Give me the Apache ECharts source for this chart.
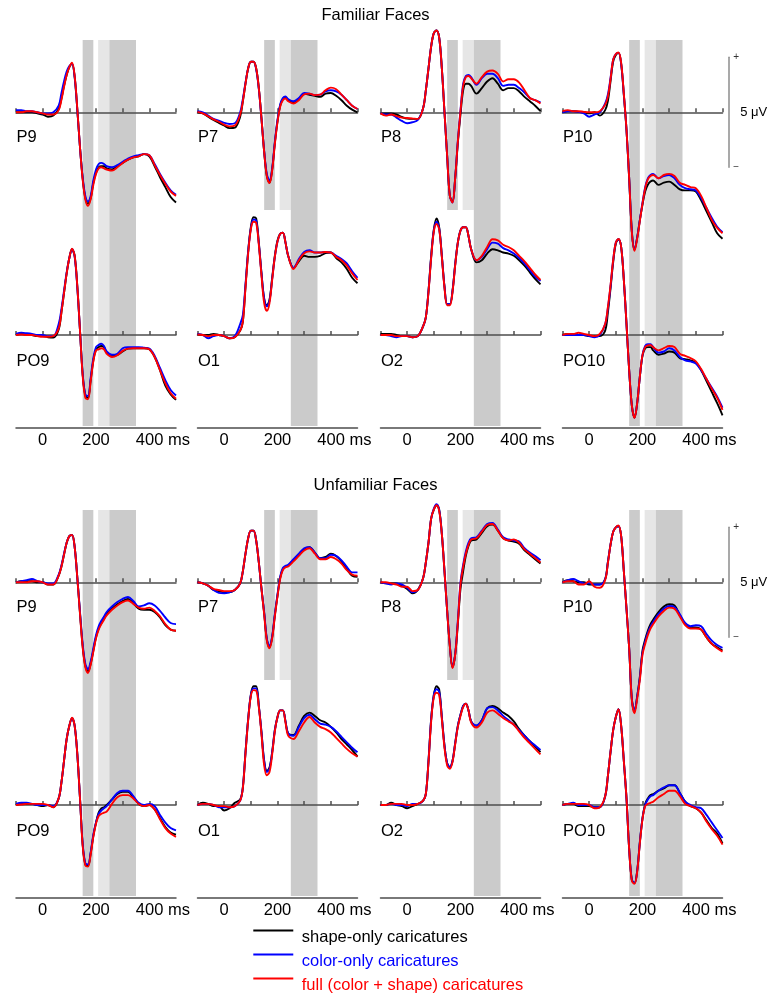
<!DOCTYPE html>
<html><head><meta charset="utf-8">
<script src="https://cdn.jsdelivr.net/npm/echarts@6/dist/echarts.min.js"></script>
<style>html,body{margin:0;padding:0;background:#fff}#c{width:768px;height:995px}</style>
</head><body><div id="c"></div>
<script>
// ---------------- DATA ----------------
const times = [-100,-80,-60,-40,-20,0,20,40,60,70, 80,90,100,110,120,130,140,150,160,170, 180,190,200,210,220,230,240,260,280,300, 320,340,360,380,400,420,440,460,480,500];
const seriesNames = ['shape-only caricatures','color-only caricatures','full (color + shape) caricatures'];
const sectionTitles = ['Familiar Faces','Unfamiliar Faces'];
const channelRows = [['P9','P7','P8','P10'],['PO9','O1','O2','PO10']];
const windowsMs = [[150,190,'dark'],[208,250,'light'],[250,350,'dark']];
const tickLabels = {0:'0',200:'200',400:'400'};
const tickUnit = 'ms';
const scaleBarLabel = '5 μV';

// Familiar faces (μV)
const fam_P9_shape = [0,0,0,0,-0.05,-0.1,-0.2,-0.15,0.15,0.6, 1.2,1.7,2.05,2.2,1.6,0.1,-1.6,-3.0,-3.9,-4.15, -3.9,-3.2,-2.75,-2.5,-2.45,-2.45,-2.55,-2.6,-2.45,-2.3, -2.15,-2.05,-2.0,-1.9,-2.0,-2.45,-2.95,-3.4,-3.85,-4.1];
const fam_P9_color = [0.1,0.1,0.05,0.05,0,-0.05,-0.05,0,0.3,0.85, 1.4,1.85,2.1,2.2,1.6,0.1,-1.6,-2.95,-3.8,-4.05, -3.8,-3.1,-2.6,-2.35,-2.3,-2.35,-2.45,-2.5,-2.4,-2.25, -2.1,-2.0,-1.95,-1.9,-1.95,-2.35,-2.8,-3.2,-3.55,-3.75];
const fam_P9_full  = [0,0,0.05,0.05,0,-0.05,-0.1,-0.1,0.1,0.55, 1.15,1.7,2.05,2.25,1.65,0.15,-1.6,-3.05,-3.95,-4.25, -3.95,-3.3,-2.8,-2.55,-2.5,-2.55,-2.6,-2.65,-2.5,-2.3, -2.15,-2.05,-2.0,-1.9,-1.95,-2.4,-2.85,-3.25,-3.6,-3.8];

const fam_P7_shape = [0,-0.05,-0.2,-0.35,-0.48,-0.6,-0.72,-0.7,-0.2,0.5, 1.3,2.0,2.3,2.3,2.0,1.1,-0.3,-1.8,-2.9,-3.2, -2.6,-1.4,-0.4,0.3,0.6,0.68,0.55,0.45,0.6,0.85, 0.8,0.75,0.7,0.85,0.88,0.75,0.55,0.3,0.12,0.0];
const fam_P7_color = [0.05,0,-0.15,-0.3,-0.38,-0.48,-0.53,-0.5,0,0.6, 1.35,2.0,2.3,2.3,1.95,1.05,-0.3,-1.75,-2.8,-3.1, -2.55,-1.35,-0.35,0.35,0.65,0.72,0.6,0.5,0.65,0.88, 0.85,0.78,0.8,0.95,1.0,0.95,0.8,0.55,0.3,0.15];
const fam_P7_full  = [0.02,-0.05,-0.18,-0.32,-0.43,-0.56,-0.64,-0.6,-0.1,0.5, 1.3,2.0,2.3,2.3,2.0,1.1,-0.3,-1.8,-2.9,-3.22, -2.65,-1.45,-0.45,0.25,0.55,0.63,0.5,0.4,0.55,0.82, 0.85,0.78,0.8,1.0,1.12,1.05,0.8,0.55,0.3,0.15];

const fam_P8_shape = [-0.05,-0.05,-0.05,-0.1,-0.21,-0.29,-0.3,-0.3,0.2,1.0, 2.0,3.0,3.6,3.72,3.4,2.0,0,-2.0,-3.8,-4.05, -3.0,-1.4,-0.1,1.0,1.3,1.3,1.2,0.85,1.1,1.4, 1.55,1.3,1.0,1.1,1.1,0.95,0.7,0.5,0.3,0.05];
const fam_P8_color = [-0.05,-0.1,-0.1,-0.24,-0.39,-0.5,-0.45,-0.35,0.2,1.0, 2.0,3.0,3.6,3.72,3.4,2.0,0,-2.0,-3.8,-4.1, -3.0,-1.3,0.1,1.3,1.65,1.7,1.6,1.25,1.55,1.75, 1.75,1.55,1.2,1.25,1.25,1.1,0.9,0.65,0.55,0.45];
const fam_P8_full  = [-0.05,-0.15,-0.1,-0.17,-0.24,-0.26,-0.28,-0.3,0.2,1.0, 2.0,3.0,3.6,3.72,3.4,2.0,0,-2.0,-3.8,-4.1, -3.0,-1.35,0.05,1.2,1.6,1.65,1.55,1.3,1.6,1.85, 1.9,1.75,1.4,1.5,1.5,1.35,1.0,0.65,0.55,0.4];

const fam_P10_shape = [0,0.05,0.05,0.02,0,-0.05,0,-0.15,0.1,0.5, 1.4,2.3,2.6,2.7,2.2,0.8,-0.8,-3.0,-5.4,-6.25, -5.7,-4.9,-4.2,-3.6,-3.3,-3.15,-3.1,-3.3,-3.2,-3.15, -3.3,-3.5,-3.55,-3.55,-3.6,-4.0,-4.5,-5.0,-5.5,-5.75];
const fam_P10_color = [0,0.05,0.05,0.02,-0.05,-0.2,-0.1,0,0.4,0.8, 1.55,2.4,2.65,2.7,2.2,0.8,-0.8,-3.0,-5.4,-6.25, -5.7,-4.9,-4.1,-3.4,-3.0,-2.85,-2.8,-3.0,-2.9,-2.85, -3.0,-3.3,-3.45,-3.5,-3.55,-3.9,-4.35,-4.8,-5.2,-5.45];
const fam_P10_full  = [0.05,0.1,0.05,0.05,0.02,0,0,0.05,0.35,0.7, 1.5,2.4,2.65,2.72,2.25,0.85,-0.8,-3.0,-5.45,-6.3, -5.75,-4.95,-4.15,-3.45,-3.05,-2.9,-2.85,-3.0,-2.85,-2.8, -2.9,-3.2,-3.3,-3.4,-3.45,-3.8,-4.35,-4.9,-5.25,-5.5];

const fam_PO9_shape = [0,0.05,0.02,0,-0.05,-0.05,-0.1,-0.12,0.25,1.0, 1.9,2.8,3.5,3.9,3.6,2.2,0.2,-1.8,-2.75,-2.85, -2.05,-1.15,-0.65,-0.55,-0.5,-0.55,-0.8,-0.95,-0.9,-0.75, -0.62,-0.6,-0.6,-0.6,-0.65,-1.0,-1.6,-2.3,-2.7,-2.95];
const fam_PO9_color = [0.05,0.1,0.08,0.05,0,0,-0.05,-0.05,0.5,1.15, 2.0,2.85,3.5,3.9,3.55,2.15,0.2,-1.75,-2.7,-2.77, -1.95,-1.05,-0.55,-0.45,-0.4,-0.5,-0.75,-0.9,-0.85,-0.6, -0.55,-0.55,-0.55,-0.58,-0.62,-0.95,-1.5,-2.05,-2.5,-2.75];
const fam_PO9_full  = [0,0.02,0,0,-0.05,-0.08,-0.08,-0.05,0.3,1.0, 1.9,2.8,3.5,3.92,3.6,2.2,0.2,-1.85,-2.85,-2.92, -2.1,-1.2,-0.7,-0.65,-0.6,-0.65,-0.85,-1.0,-0.92,-0.72, -0.62,-0.6,-0.6,-0.6,-0.65,-1.0,-1.6,-2.2,-2.65,-2.9];

const fam_O1_shape = [0.02,0,0,0.05,0,-0.05,-0.15,-0.1,0.2,0.6, 2.2,3.8,4.9,5.35,5.3,4.2,2.8,1.65,1.35,1.6, 2.6,3.6,4.3,4.6,4.65,4.2,3.6,3.05,3.35,3.6, 3.55,3.55,3.6,3.72,3.75,3.5,3.3,3.0,2.6,2.35];
const fam_O1_color = [0.05,0,-0.15,-0.05,0,-0.05,-0.15,-0.05,0.5,0.9, 2.3,3.8,4.85,5.25,5.2,4.15,2.8,1.65,1.3,1.55, 2.55,3.55,4.25,4.6,4.65,4.2,3.6,3.05,3.45,3.77, 3.85,3.75,3.75,3.77,3.75,3.6,3.45,3.25,2.9,2.6];
const fam_O1_full  = [0.02,0,-0.05,0,0,-0.05,-0.15,-0.1,0.2,0.6, 2.15,3.7,4.8,5.15,5.1,4.1,2.7,1.45,1.1,1.45, 2.5,3.55,4.25,4.6,4.65,4.2,3.6,3.0,3.4,3.72, 3.8,3.75,3.75,3.77,3.75,3.55,3.4,3.15,2.8,2.5];

const fam_O2_shape = [0.05,0.05,0.05,0,-0.05,-0.05,-0.1,-0.05,0.4,0.8, 2.0,3.6,4.8,5.3,4.9,3.6,2.2,1.4,1.4,2.0, 3.2,4.2,4.75,4.9,4.9,4.5,3.9,3.3,3.4,3.7, 3.9,3.85,3.75,3.7,3.6,3.4,3.15,2.85,2.55,2.3];
const fam_O2_color = [0,0,-0.05,-0.1,-0.05,-0.05,-0.1,-0.05,0.4,0.8, 2.0,3.55,4.75,5.15,4.85,3.6,2.2,1.4,1.4,2.0, 3.2,4.2,4.75,4.9,4.9,4.5,3.9,3.4,3.55,3.9, 4.2,4.15,3.95,3.85,3.7,3.5,3.25,2.95,2.65,2.45];
const fam_O2_full  = [0,0,0,-0.05,-0.05,-0.05,-0.1,-0.05,0.4,0.8, 1.95,3.5,4.7,5.05,4.8,3.55,2.15,1.35,1.35,1.95, 3.15,4.2,4.75,4.9,4.9,4.5,3.9,3.4,3.6,4.0, 4.35,4.3,4.1,4.0,3.85,3.6,3.35,3.05,2.75,2.5];

const fam_PO10_shape = [0,0.05,0.05,0,0,-0.05,-0.05,-0.05,0.2,1.0, 2.1,3.3,4.15,4.35,4.0,2.5,0.5,-1.6,-3.2,-3.75, -3.1,-1.9,-0.95,-0.6,-0.55,-0.55,-0.7,-0.9,-0.85,-0.75, -0.8,-1.05,-1.1,-1.15,-1.25,-1.6,-2.1,-2.6,-3.1,-3.65];
const fam_PO10_color = [0,0,0,0,0,-0.05,-0.1,0,0.5,1.2, 2.2,3.4,4.2,4.35,4.0,2.5,0.5,-1.6,-3.2,-3.75, -3.1,-1.9,-0.9,-0.5,-0.42,-0.42,-0.55,-0.8,-0.75,-0.6, -0.7,-1.0,-1.15,-1.2,-1.3,-1.6,-2.0,-2.4,-2.8,-3.3];
const fam_PO10_full  = [0,0.05,0.05,0.1,0.05,0,-0.05,0.05,0.5,1.25, 2.25,3.4,4.2,4.37,4.0,2.5,0.5,-1.6,-3.2,-3.78, -3.1,-1.9,-0.9,-0.55,-0.47,-0.45,-0.55,-0.7,-0.6,-0.5, -0.55,-0.85,-0.95,-1.05,-1.2,-1.55,-2.0,-2.45,-2.85,-3.4];

// Unfamiliar faces (μV)
const unf_P9_shape = [0,0.05,0.05,0.05,0,0,-0.1,-0.1,0.3,0.7, 1.25,1.8,2.1,2.15,1.6,0.2,-1.4,-2.9,-3.8,-4.05, -3.7,-3.1,-2.5,-2.1,-1.85,-1.65,-1.45,-1.2,-1.0,-0.85, -0.76,-0.95,-1.2,-1.25,-1.25,-1.35,-1.6,-1.95,-2.15,-2.2];
const unf_P9_color = [0,0.05,0.1,0.15,0.05,0,-0.05,-0.05,0.35,0.75, 1.3,1.8,2.1,2.15,1.6,0.2,-1.35,-2.8,-3.7,-3.95, -3.6,-3.0,-2.4,-2.0,-1.75,-1.55,-1.35,-1.1,-0.9,-0.75, -0.67,-0.85,-1.1,-1.05,-0.95,-1.05,-1.3,-1.6,-1.85,-1.9];
const unf_P9_full  = [0,0,0,0.05,0.05,0,-0.1,-0.1,0.3,0.7, 1.25,1.8,2.1,2.15,1.6,0.2,-1.45,-2.95,-3.85,-4.12, -3.75,-3.15,-2.55,-2.15,-1.9,-1.7,-1.5,-1.25,-1.05,-0.9, -0.83,-0.98,-1.15,-1.2,-1.15,-1.3,-1.55,-1.9,-2.15,-2.2];

const unf_P7_shape = [0,-0.05,-0.15,-0.35,-0.4,-0.45,-0.45,-0.35,-0.05,0.5, 1.3,2.0,2.35,2.35,1.9,0.9,-0.3,-1.4,-2.6,-2.95, -2.5,-1.5,-0.6,0.2,0.6,0.7,0.75,1.0,1.25,1.5, 1.6,1.35,1.1,1.15,1.3,1.2,0.95,0.6,0.3,0.25];
const unf_P7_color = [0,-0.05,-0.15,-0.35,-0.48,-0.5,-0.45,-0.35,-0.05,0.5, 1.3,2.0,2.35,2.35,1.9,0.9,-0.3,-1.35,-2.55,-2.9, -2.45,-1.45,-0.55,0.25,0.65,0.75,0.8,1.05,1.3,1.55, 1.6,1.35,1.1,1.1,1.25,1.2,1.0,0.7,0.45,0.45];
const unf_P7_full  = [0,-0.05,-0.15,-0.3,-0.35,-0.4,-0.4,-0.35,-0.05,0.5, 1.3,2.0,2.35,2.35,1.9,0.9,-0.3,-1.45,-2.65,-3.0, -2.55,-1.55,-0.65,0.15,0.55,0.68,0.72,0.95,1.2,1.45, 1.55,1.3,1.05,1.05,1.15,1.05,0.85,0.55,0.35,0.3];

const unf_P8_shape = [0,-0.05,-0.05,-0.05,-0.15,-0.3,-0.5,-0.35,0.2,0.9, 1.8,2.9,3.3,3.5,3.3,2.2,0.5,-1.3,-2.9,-3.85, -3.3,-1.9,-0.3,0.5,1.2,1.65,1.9,1.95,2.25,2.55, 2.62,2.35,2.0,1.9,1.85,1.75,1.45,1.25,1.05,0.85];
const unf_P8_color = [0,-0.05,-0.1,-0.05,-0.1,-0.25,-0.45,-0.35,0.2,0.9, 1.8,2.9,3.35,3.55,3.3,2.2,0.5,-1.3,-2.85,-3.85, -3.25,-1.75,0,0.8,1.4,1.8,2.0,2.05,2.35,2.65, 2.7,2.4,2.05,1.95,1.9,1.85,1.55,1.35,1.2,1.0];
const unf_P8_full  = [0,0,-0.05,-0.1,-0.2,-0.2,-0.4,-0.35,0.2,0.9, 1.8,2.9,3.3,3.5,3.25,2.2,0.5,-1.3,-2.9,-3.9, -3.3,-1.85,-0.1,0.7,1.3,1.7,1.95,2.0,2.3,2.6, 2.65,2.35,2.0,1.9,1.95,1.8,1.5,1.3,1.1,0.9];

const unf_P10_shape = [0,0.1,0.05,0,0,-0.1,-0.1,-0.1,0.15,0.9, 1.7,2.3,2.5,2.55,2.1,0.5,-1.2,-3.0,-5.3,-5.85, -5.2,-4.3,-3.1,-2.6,-2.2,-1.9,-1.7,-1.35,-1.1,-1.0, -1.05,-1.5,-1.9,-2.05,-2.05,-2.15,-2.5,-2.8,-2.95,-3.1];
const unf_P10_color = [0,0.1,0.15,0.05,-0.05,-0.05,-0.1,-0.1,0.15,0.9, 1.7,2.3,2.5,2.55,2.1,0.5,-1.2,-3.0,-5.3,-5.85, -5.2,-4.35,-3.2,-2.7,-2.3,-2.0,-1.8,-1.45,-1.2,-1.08, -1.12,-1.45,-1.85,-2.0,-1.95,-2.0,-2.35,-2.65,-2.85,-2.98];
const unf_P10_full  = [0,0.05,0.05,-0.1,-0.1,0.05,-0.2,-0.25,0.1,0.85, 1.7,2.3,2.5,2.58,2.1,0.5,-1.2,-3.0,-5.35,-5.95, -5.3,-4.45,-3.3,-2.8,-2.4,-2.1,-1.9,-1.55,-1.3,-1.15, -1.2,-1.55,-1.95,-2.1,-2.1,-2.15,-2.5,-2.8,-3.0,-3.15];

const unf_PO9_shape = [0,0.05,0.05,0.05,0,-0.05,0,-0.1,0.3,1.0, 2.0,3.0,3.6,3.95,3.6,2.3,0.3,-1.8,-2.7,-2.75, -2.2,-1.4,-0.8,-0.35,-0.15,-0.1,0,0.25,0.5,0.6, 0.6,0.35,0.05,-0.05,0,-0.2,-0.6,-1.0,-1.25,-1.35];
const unf_PO9_color = [0.05,0.1,0.1,0.05,0,0,0,-0.05,0.3,1.0, 2.0,3.0,3.6,3.95,3.6,2.3,0.3,-1.75,-2.65,-2.7, -2.15,-1.35,-0.8,-0.4,-0.25,-0.15,-0.05,0.25,0.55,0.65, 0.65,0.4,0.1,0,0.05,-0.05,-0.45,-0.8,-1.05,-1.15];
const unf_PO9_full  = [0,0.02,0.05,0.05,0.05,0.05,0,-0.1,0.3,1.0, 2.0,3.0,3.6,3.97,3.6,2.3,0.3,-1.85,-2.75,-2.8, -2.25,-1.45,-0.85,-0.5,-0.4,-0.35,-0.3,0.05,0.35,0.45, 0.45,0.3,0.05,-0.05,0,-0.2,-0.65,-1.05,-1.3,-1.45];

const unf_O1_shape = [0,0.1,0.05,-0.05,-0.05,-0.25,-0.15,0.1,0.25,0.8, 2.4,3.9,5.0,5.4,5.4,4.5,3.3,2.0,1.55,1.7, 2.4,3.4,4.0,4.3,4.3,3.8,3.25,3.18,3.6,4.05, 4.2,4.05,3.85,3.75,3.55,3.3,3.0,2.75,2.5,2.2];
const unf_O1_color = [0,0.05,0.05,0,-0.1,-0.1,-0.1,-0.05,0.2,0.8, 2.4,3.9,5.0,5.3,5.3,4.5,3.3,2.0,1.5,1.65, 2.4,3.4,4.0,4.3,4.3,3.8,3.25,3.15,3.55,3.95, 4.1,3.9,3.7,3.65,3.55,3.35,3.1,2.85,2.6,2.4];
const unf_O1_full  = [0,0.05,0.05,0,-0.05,-0.05,-0.1,-0.05,0.2,0.75, 2.35,3.85,4.95,5.22,5.2,4.45,3.2,1.8,1.35,1.5, 2.3,3.35,4.0,4.3,4.3,3.75,3.15,3.0,3.35,3.75, 4.0,3.75,3.55,3.45,3.3,3.05,2.8,2.55,2.35,2.2];

const unf_O2_shape = [0,0,0.1,0,-0.05,-0.15,-0.05,0.05,0.2,0.5, 2.0,3.9,5.0,5.4,5.25,4.0,2.7,1.9,1.72,2.0, 2.8,3.6,4.1,4.5,4.6,4.3,3.8,3.6,3.85,4.4, 4.5,4.4,4.2,4.05,3.8,3.45,3.15,2.9,2.65,2.4];
const unf_O2_color = [0,0,0.05,0,0,-0.05,0.05,0.05,0.2,0.5, 2.0,3.9,5.0,5.26,5.15,4.0,2.7,1.9,1.72,2.0, 2.8,3.6,4.1,4.5,4.6,4.3,3.8,3.62,3.85,4.4, 4.45,4.3,4.05,3.85,3.65,3.4,3.15,2.9,2.7,2.5];
const unf_O2_full  = [0,0,0.05,0.05,0.05,0,0,0.05,0.2,0.5, 1.95,3.8,4.9,5.1,5.0,3.9,2.6,1.8,1.65,1.95, 2.75,3.55,4.05,4.45,4.6,4.3,3.75,3.52,3.75,4.2, 4.3,4.15,3.95,3.8,3.65,3.35,3.05,2.8,2.55,2.3];

const unf_PO10_shape = [0,0.05,0.05,-0.05,-0.05,-0.05,-0.1,-0.1,0.4,1.3, 2.4,3.4,4.0,4.35,3.6,2.0,0.3,-2.0,-3.4,-3.55, -3.0,-1.7,-0.6,0.05,0.3,0.45,0.5,0.65,0.75,0.9, 0.9,0.55,0.15,-0.05,-0.15,-0.35,-0.7,-1.05,-1.3,-1.75];
const unf_PO10_color = [0,0.05,0.1,0,0,0,-0.1,-0.1,0.4,1.3, 2.4,3.4,4.0,4.35,3.6,2.0,0.3,-2.0,-3.4,-3.55, -3.0,-1.7,-0.6,0,0.25,0.4,0.45,0.65,0.8,0.9, 0.9,0.55,0.15,0,-0.1,-0.15,-0.45,-0.8,-1.15,-1.5];
const unf_PO10_full  = [0,0.05,0.05,0.05,0.05,0,-0.15,-0.1,0.4,1.3, 2.4,3.4,4.0,4.35,3.6,2.0,0.3,-2.0,-3.45,-3.58, -3.05,-1.75,-0.65,-0.05,0.05,0.1,0.15,0.35,0.5,0.65, 0.65,0.4,0.05,-0.05,-0.15,-0.35,-0.75,-1.1,-1.4,-1.8];

const panelSeries = [
  { P9:[fam_P9_shape,fam_P9_color,fam_P9_full], P7:[fam_P7_shape,fam_P7_color,fam_P7_full],
    P8:[fam_P8_shape,fam_P8_color,fam_P8_full], P10:[fam_P10_shape,fam_P10_color,fam_P10_full],
    PO9:[fam_PO9_shape,fam_PO9_color,fam_PO9_full], O1:[fam_O1_shape,fam_O1_color,fam_O1_full],
    O2:[fam_O2_shape,fam_O2_color,fam_O2_full], PO10:[fam_PO10_shape,fam_PO10_color,fam_PO10_full] },
  { P9:[unf_P9_shape,unf_P9_color,unf_P9_full], P7:[unf_P7_shape,unf_P7_color,unf_P7_full],
    P8:[unf_P8_shape,unf_P8_color,unf_P8_full], P10:[unf_P10_shape,unf_P10_color,unf_P10_full],
    PO9:[unf_PO9_shape,unf_PO9_color,unf_PO9_full], O1:[unf_O1_shape,unf_O1_color,unf_O1_full],
    O2:[unf_O2_shape,unf_O2_color,unf_O2_full], PO10:[unf_PO10_shape,unf_PO10_color,unf_PO10_full] }
];

// ---------------- LAYOUT / STYLE ----------------
const FONT = '"Liberation Sans", Arial, Helvetica, sans-serif';
const lineColors = ['#000000','#0000ff','#ff0000'];
const shadeColors = {dark:'#cbcbcb', light:'#e6e6e6'};
const axisColor = '#4d4d4d';
const colLeft = [16, 197.5, 380.5, 562.5];
const PANEL_W = 160;
const secOff = [0, 470];
const rowTop = [40, 210], rowBottom = [210, 426], rowBase = [112.3, 335];
const PX_PER_UV = 22;
const LABEL_FS = 16.5;

const grids = [], xAxes = [], yAxes = [], series = [], titles = [];

sectionTitles.forEach((secTitle, s) => {
  const off = secOff[s];
  titles.push({text: secTitle, left: 375.5, textAlign: 'center', top: 7.3 + off, padding: 0,
    textStyle: {fontSize: 16.5, fontWeight: 'normal', color: '#000', fontFamily: FONT}});
  channelRows.forEach((row, r) => {
    row.forEach((ch, c) => {
      const gi = grids.length;
      const top = rowTop[r] + off, h = rowBottom[r] - rowTop[r];
      grids.push({left: colLeft[c], top: top, width: PANEL_W, height: h});
      const yMax = (rowBase[r] - rowTop[r]) / PX_PER_UV;
      const yMin = -(rowBottom[r] - rowBase[r]) / PX_PER_UV;
      yAxes.push({gridIndex: gi, type: 'value', min: yMin, max: yMax, show: false});
      const yi = yAxes.length - 1;
      xAxes.push({gridIndex: gi, type: 'value', min: -100, max: 500, interval: 100, position: 'bottom', z: 2,
        axisLine: {onZero: true, lineStyle: {color: axisColor, width: 1.5}},
        axisTick: {show: true, inside: true, length: 4, lineStyle: {color: axisColor, width: 1.5}},
        axisLabel: {show: false}, splitLine: {show: false}});
      const xi = xAxes.length - 1;
      if (r === 1) {
        xAxes.push({gridIndex: gi, type: 'value', min: -100, max: 500, interval: 100, position: 'bottom', offset: 2, z: 2,
          axisLine: {onZero: false, lineStyle: {color: axisColor, width: 1.5}},
          axisTick: {show: false}, splitLine: {show: false},
          axisLabel: {show: true, margin: 3.5, fontSize: LABEL_FS, color: '#000', fontFamily: FONT,
            formatter: v => {
              const t = tickLabels[v];
              if (t === undefined) return '';
              if (v === 400) return '{a|' + t + '}{b| ' + tickUnit + '}';
              return t;
            },
            rich: {a: {fontSize: LABEL_FS, fontFamily: FONT, color: '#000', padding: [0,0,0,27]},
                   b: {fontSize: LABEL_FS, fontFamily: FONT, color: '#000'}}}});
      }
      // channel label
      titles.push({text: ch, left: colLeft[c] + 0.5, top: rowBase[r] + off + (r === 0 ? 24.5 : 25.8) - LABEL_FS/2 + 0.5, padding: 0,
        textStyle: {fontSize: LABEL_FS, fontWeight: 'normal', color: '#000', fontFamily: FONT}});
      // shaded windows
      const wins = (r === 0 || c === 0 || c === 3) ? windowsMs : windowsMs.filter(w => w[0] === 250);
      series.push({type: 'line', data: [], xAxisIndex: xi, yAxisIndex: yi, silent: true, z: 1,
        markArea: {silent: true, data: wins.map(w => [{xAxis: w[0], itemStyle: {color: shadeColors[w[2]], opacity: 1}}, {xAxis: w[1]}])}});
      // waveforms
      panelSeries[s][ch].forEach((vals, k) => {
        series.push({type: 'line', name: seriesNames[k], xAxisIndex: xi, yAxisIndex: yi,
          data: times.map((t, i) => [t, vals[i]]),
          smooth: 0.35, symbol: 'none', showSymbol: false, clip: false, z: 3 + k,
          color: lineColors[k], itemStyle: {color: lineColors[k]},
          lineStyle: {color: lineColors[k], width: 1.9}});
      });
    });
  });
  // scale bar (5 μV) as a y axis
  const gi = grids.length;
  grids.push({left: 728.5, width: 1, top: rowBase[0] + off - 2.5 * PX_PER_UV, height: 5 * PX_PER_UV});
  xAxes.push({gridIndex: gi, type: 'value', show: false, min: 0, max: 1});
  yAxes.push({gridIndex: gi, type: 'value', position: 'right', min: -2.5, max: 2.5, interval: 2.5,
    axisLine: {show: true, onZero: false, lineStyle: {color: '#8c8c8c', width: 1.5}},
    axisTick: {show: false}, splitLine: {show: false},
    axisLabel: {show: true, margin: 4.5, formatter: v => v > 0 ? '{p|+}' : (v < 0 ? '{p|−}' : '{v|' + scaleBarLabel + '}'),
      rich: {p: {fontSize: 10, color: '#333', fontFamily: FONT}, v: {fontSize: 13, color: '#000', fontFamily: FONT, padding: [0,0,0,7]}}}});
});

const legendIcon = 'path://M0,0H40V2H0Z M43.4,16H43.5V16.01H43.4Z';
const legendTops = [929, 953, 977];
const legends = seriesNames.map((n, k) => ({
  orient: 'vertical', left: 253.3, top: legendTops[k], itemWidth: 43.5, itemHeight: 16,
  icon: legendIcon, selectedMode: false, padding: 0,
  textStyle: {fontSize: LABEL_FS, lineHeight: 16, fontFamily: FONT, color: lineColors[k]},
  data: [{name: n, textStyle: {color: lineColors[k]}}]
}));

const option = {
  animation: false,
  backgroundColor: '#fff',
  textStyle: {fontFamily: FONT},
  title: titles,
  grid: grids, xAxis: xAxes, yAxis: yAxes, series: series,
  legend: legends
};
const chart = echarts.init(document.getElementById('c'), null, {renderer: 'canvas', width: 768, height: 995});
chart.setOption(option);
</script></body></html>
